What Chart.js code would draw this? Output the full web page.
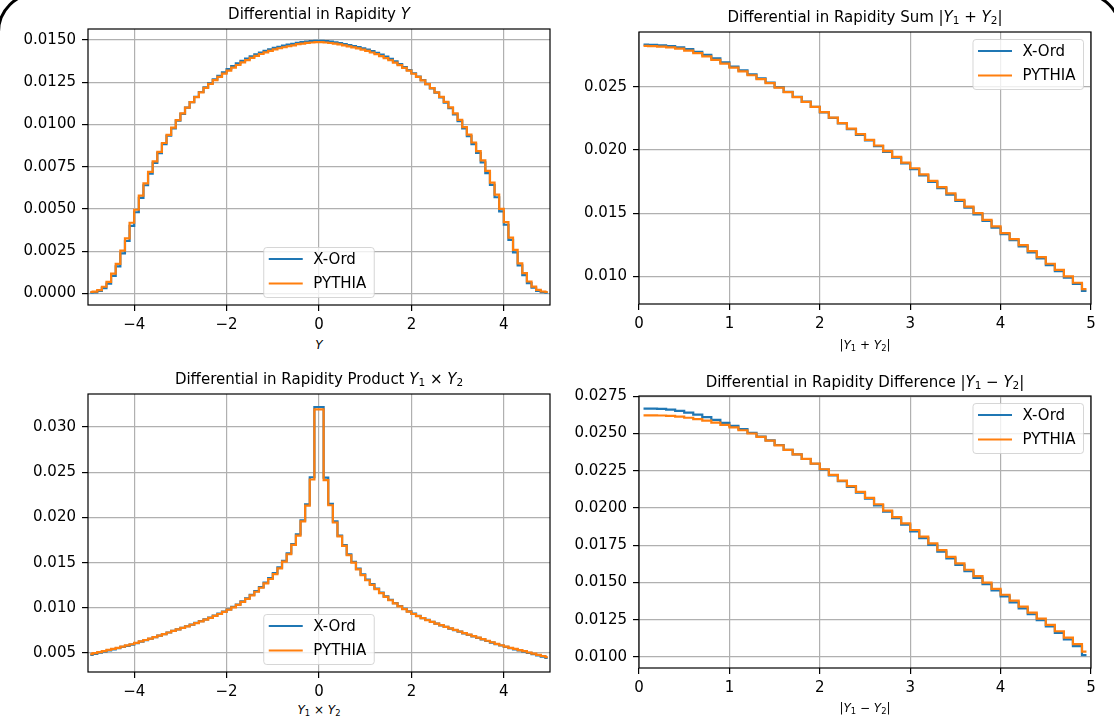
<!DOCTYPE html>
<html>
<head>
<meta charset="utf-8">
<script src="https://cdn.jsdelivr.net/npm/chart.js@4.4.0/dist/chart.umd.min.js"></script>
<style>
  body { margin:0; background:#fff; width:1114px; height:724px; overflow:hidden; position:relative; font-family:'DejaVu Sans', sans-serif; }
  canvas { position:absolute; }
  .txt { position:absolute; white-space:nowrap; transform:translateX(-50%); color:#000; line-height:1; }
  .txt sub { font-size:70%; vertical-align:-0.22em; line-height:0; }
  #corner { position:absolute; left:-3px; top:-8px; width:1125px; height:900px; border:3px solid #000; border-radius:40px; box-sizing:border-box; }
</style>
</head>
<body>
<div id="corner"></div>
<script>
// bin centres
const symBins = [
  -4.95,-4.85,-4.75,-4.65,-4.55,-4.45,-4.35,-4.25,-4.15,-4.05,
  -3.95,-3.85,-3.75,-3.65,-3.55,-3.45,-3.35,-3.25,-3.15,-3.05,
  -2.95,-2.85,-2.75,-2.65,-2.55,-2.45,-2.35,-2.25,-2.15,-2.05,
  -1.95,-1.85,-1.75,-1.65,-1.55,-1.45,-1.35,-1.25,-1.15,-1.05,
  -0.95,-0.85,-0.75,-0.65,-0.55,-0.45,-0.35,-0.25,-0.15,-0.05,
  0.05,0.15,0.25,0.35,0.45,0.55,0.65,0.75,0.85,0.95,
  1.05,1.15,1.25,1.35,1.45,1.55,1.65,1.75,1.85,1.95,
  2.05,2.15,2.25,2.35,2.45,2.55,2.65,2.75,2.85,2.95,
  3.05,3.15,3.25,3.35,3.45,3.55,3.65,3.75,3.85,3.95,
  4.05,4.15,4.25,4.35,4.45,4.55,4.65,4.75,4.85,4.95
];
const absBins = [
  0.05,0.15,0.25,0.35,0.45,0.55,0.65,0.75,0.85,0.95,
  1.05,1.15,1.25,1.35,1.45,1.55,1.65,1.75,1.85,1.95,
  2.05,2.15,2.25,2.35,2.45,2.55,2.65,2.75,2.85,2.95,
  3.05,3.15,3.25,3.35,3.45,3.55,3.65,3.75,3.85,3.95,
  4.05,4.15,4.25,4.35,4.45,4.55,4.65,4.75,4.85,4.95
];

// rapidity Y
const rapXord = [
  0.00004,0.00006,0.00014,0.00031,0.00058,0.00104,0.00160,0.00237,0.00310,0.00400,
  0.00480,0.00565,0.00640,0.00708,0.00772,0.00830,0.00884,0.00933,0.00977,0.01022,
  0.01063,0.01099,0.01132,0.01163,0.01192,0.01219,0.01244,0.01267,0.01288,0.01308,
  0.01327,0.01345,0.01361,0.01376,0.01390,0.01403,0.01415,0.01426,0.01436,0.01445,
  0.01453,0.01460,0.01466,0.01472,0.01477,0.01483,0.01487,0.01491,0.01494,0.01495,
  0.01495,0.01493,0.01490,0.01486,0.01482,0.01476,0.01470,0.01464,0.01458,0.01451,
  0.01443,0.01434,0.01424,0.01413,0.01401,0.01388,0.01373,0.01357,0.01340,0.01322,
  0.01303,0.01283,0.01262,0.01239,0.01214,0.01188,0.01160,0.01129,0.01096,0.01060,
  0.01020,0.00976,0.00931,0.00883,0.00831,0.00775,0.00712,0.00642,0.00569,0.00485,
  0.00406,0.00316,0.00243,0.00165,0.00108,0.00061,0.00033,0.00015,0.00007,0.00004
];
const rapPythia = [
  0.00008,0.00010,0.00019,0.00039,0.00068,0.00117,0.00175,0.00253,0.00326,0.00418,
  0.00495,0.00579,0.00651,0.00719,0.00781,0.00838,0.00890,0.00938,0.00981,0.01025,
  0.01065,0.01100,0.01132,0.01162,0.01190,0.01216,0.01240,0.01262,0.01282,0.01301,
  0.01319,0.01336,0.01352,0.01367,0.01381,0.01394,0.01406,0.01417,0.01427,0.01436,
  0.01444,0.01451,0.01457,0.01463,0.01468,0.01475,0.01479,0.01483,0.01485,0.01487,
  0.01487,0.01485,0.01482,0.01478,0.01474,0.01468,0.01462,0.01456,0.01450,0.01443,
  0.01435,0.01426,0.01416,0.01405,0.01393,0.01380,0.01366,0.01351,0.01335,0.01318,
  0.01300,0.01281,0.01261,0.01239,0.01215,0.01190,0.01163,0.01133,0.01101,0.01066,
  0.01027,0.00984,0.00940,0.00893,0.00842,0.00787,0.00725,0.00656,0.00584,0.00500,
  0.00422,0.00330,0.00257,0.00178,0.00120,0.00070,0.00040,0.00020,0.00011,0.00008
];

// rapidity sum |Y1+Y2|
const sumXord = [
  0.02832,0.02831,0.02827,0.02821,0.02811,0.02796,0.02776,0.02751,0.02723,0.02692,
  0.02659,0.02628,0.02597,0.02566,0.02533,0.02497,0.02459,0.02420,0.02381,0.02340,
  0.02297,0.02253,0.02209,0.02164,0.02119,0.02076,0.02030,0.01984,0.01938,0.01893,
  0.01848,0.01798,0.01748,0.01697,0.01647,0.01596,0.01543,0.01491,0.01438,0.01386,
  0.01334,0.01286,0.01238,0.01190,0.01142,0.01090,0.01042,0.00990,0.00940,0.00885
];
const sumPythia = [
  0.02822,0.02820,0.02816,0.02810,0.02800,0.02785,0.02765,0.02740,0.02712,0.02682,
  0.02650,0.02620,0.02590,0.02560,0.02528,0.02493,0.02456,0.02418,0.02380,0.02340,
  0.02298,0.02255,0.02212,0.02168,0.02124,0.02080,0.02035,0.01990,0.01945,0.01900,
  0.01855,0.01806,0.01756,0.01706,0.01656,0.01605,0.01552,0.01500,0.01447,0.01395,
  0.01343,0.01295,0.01247,0.01200,0.01152,0.01100,0.01052,0.01000,0.00950,0.00900
];

// rapidity product Y1*Y2
const prodXord = [
  0.00480,0.00491,0.00503,0.00516,0.00528,0.00541,0.00553,0.00567,0.00580,0.00594,
  0.00609,0.00625,0.00642,0.00658,0.00675,0.00692,0.00709,0.00727,0.00744,0.00761,
  0.00779,0.00796,0.00815,0.00833,0.00852,0.00872,0.00892,0.00913,0.00936,0.00959,
  0.00984,0.01010,0.01037,0.01071,0.01106,0.01145,0.01185,0.01230,0.01278,0.01328,
  0.01383,0.01447,0.01521,0.01604,0.01706,0.01812,0.01968,0.02145,0.02445,0.03222,
  0.03222,0.02440,0.02150,0.01956,0.01800,0.01695,0.01592,0.01509,0.01434,0.01370,
  0.01313,0.01262,0.01214,0.01169,0.01127,0.01089,0.01053,0.01020,0.00990,0.00961,
  0.00935,0.00910,0.00887,0.00866,0.00846,0.00826,0.00807,0.00789,0.00771,0.00753,
  0.00736,0.00718,0.00701,0.00684,0.00667,0.00650,0.00633,0.00616,0.00599,0.00583,
  0.00567,0.00554,0.00541,0.00528,0.00516,0.00501,0.00488,0.00475,0.00461,0.00446
];
const prodPythia = [
  0.00487,0.00498,0.00510,0.00522,0.00534,0.00546,0.00558,0.00571,0.00584,0.00597,
  0.00612,0.00628,0.00644,0.00660,0.00676,0.00693,0.00710,0.00727,0.00744,0.00761,
  0.00778,0.00795,0.00813,0.00831,0.00850,0.00869,0.00889,0.00910,0.00932,0.00955,
  0.00980,0.01005,0.01032,0.01065,0.01100,0.01138,0.01178,0.01222,0.01270,0.01319,
  0.01374,0.01437,0.01511,0.01593,0.01696,0.01800,0.01956,0.02130,0.02420,0.03196,
  0.03196,0.02412,0.02135,0.01944,0.01790,0.01685,0.01582,0.01500,0.01426,0.01362,
  0.01305,0.01255,0.01207,0.01163,0.01122,0.01084,0.01049,0.01016,0.00986,0.00958,
  0.00932,0.00908,0.00886,0.00865,0.00845,0.00826,0.00808,0.00790,0.00772,0.00755,
  0.00738,0.00721,0.00704,0.00687,0.00670,0.00653,0.00636,0.00619,0.00602,0.00586,
  0.00571,0.00558,0.00545,0.00533,0.00521,0.00506,0.00493,0.00480,0.00467,0.00454
];

// rapidity difference |Y1-Y2|
const diffXord = [
  0.02667,0.02667,0.02666,0.02661,0.02652,0.02641,0.02627,0.02610,0.02592,0.02572,
  0.02551,0.02529,0.02505,0.02480,0.02454,0.02423,0.02391,0.02360,0.02329,0.02297,
  0.02258,0.02219,0.02180,0.02141,0.02102,0.02062,0.02018,0.01975,0.01931,0.01888,
  0.01843,0.01798,0.01752,0.01707,0.01662,0.01618,0.01575,0.01531,0.01488,0.01446,
  0.01406,0.01366,0.01326,0.01286,0.01246,0.01204,0.01160,0.01117,0.01072,0.01012
];
const diffPythia = [
  0.02622,0.02622,0.02621,0.02618,0.02613,0.02606,0.02597,0.02586,0.02573,0.02558,
  0.02541,0.02522,0.02500,0.02477,0.02452,0.02420,0.02390,0.02360,0.02330,0.02298,
  0.02260,0.02222,0.02184,0.02146,0.02108,0.02068,0.02025,0.01982,0.01939,0.01896,
  0.01852,0.01807,0.01762,0.01717,0.01672,0.01628,0.01585,0.01542,0.01499,0.01457,
  0.01417,0.01377,0.01337,0.01297,0.01257,0.01215,0.01172,0.01129,0.01085,0.01035
];

// tick values
const symXTicks = [-4, -2, 0, 2, 4];
const absXTicks = [0, 1, 2, 3, 4, 5];
const rapYTicks = [0, 0.0025, 0.005, 0.0075, 0.01, 0.0125, 0.015];
const sumYTicks = [0.010, 0.015, 0.020, 0.025];
const prodYTicks = [0.005, 0.010, 0.015, 0.020, 0.025, 0.030];
const diffYTicks = [0.0100, 0.0125, 0.0150, 0.0175, 0.0200, 0.0225, 0.0250, 0.0275];

Chart.defaults.font.family = "'DejaVu Sans'";
Chart.defaults.color = '#000';

const frame = {
  id: 'frame',
  afterDatasetsDraw(chart) {
    const { ctx, chartArea: a } = chart;
    ctx.save();
    ctx.strokeStyle = '#000';
    ctx.lineWidth = 1.2;
    ctx.strokeRect(a.left, a.top, a.right - a.left, a.bottom - a.top);
    ctx.restore();
  }
};

// matplotlib-like legend inside the axes
const insideLegend = {
  id: 'insideLegend',
  afterDraw(chart, args, opts) {
    const { ctx, chartArea: a } = chart;
    const sets = chart.data.datasets;
    ctx.save();
    ctx.font = "15px 'DejaVu Sans'";
    const tw = Math.max(...sets.map(d => ctx.measureText(d.label).width));
    const w = 49.5 + tw + 8, h = 50, r = 3;
    let x, y;
    if (opts.loc === 'upper right') { x = a.right - 7.5 - w; y = a.top + 7.5; }
    else { x = (a.left + a.right) / 2 - w / 2; y = a.bottom - 7.5 - h; }
    ctx.beginPath();
    ctx.moveTo(x + r, y);
    ctx.arcTo(x + w, y, x + w, y + h, r);
    ctx.arcTo(x + w, y + h, x, y + h, r);
    ctx.arcTo(x, y + h, x, y, r);
    ctx.arcTo(x, y, x + w, y, r);
    ctx.closePath();
    ctx.fillStyle = 'rgba(255,255,255,0.8)';
    ctx.fill();
    ctx.strokeStyle = 'rgba(204,204,204,0.8)';
    ctx.lineWidth = 1;
    ctx.stroke();
    sets.forEach((d, i) => {
      const ry = y + 11.5 + i * 24.5;
      ctx.beginPath();
      ctx.moveTo(x + 5, ry);
      ctx.lineTo(x + 39, ry);
      ctx.strokeStyle = d.borderColor;
      ctx.lineWidth = 2.2;
      ctx.stroke();
      ctx.fillStyle = '#000';
      ctx.textBaseline = 'middle';
      ctx.fillText(d.label, x + 49.5, ry + 1);
    });
    ctx.restore();
  }
};

const fmtX = v => v < 0 ? '\u2212' + (-v) : String(v);

function addText(html, cx, top, size) {
  const el = document.createElement('div');
  el.className = 'txt';
  el.style.left = cx + 'px';
  el.style.top = top + 'px';
  el.style.fontSize = size + 'px';
  el.innerHTML = html;
  document.body.appendChild(el);
}

function panel(p) {
  const [l, r, t, b] = p.box;
  const yw = 80, xh = 30, padT = 10, padR = 12;
  const cv = document.createElement('canvas');
  const L = l - yw, T = t - padT;
  cv.width = r + padR - L;
  cv.height = b + xh - T;
  cv.style.left = L + 'px';
  cv.style.top = T + 'px';
  document.body.appendChild(cv);

  const gridCfg = { color: '#b0b0b0', lineWidth: 1.2, tickColor: '#000', tickLength: 6, tickWidth: 1.2 };
  new Chart(cv, {
    type: 'line',
    data: {
      datasets: [
        // PYTHIA is drawn on top, as in the original figure
        { label: 'X-Ord', order: 2, data: p.bins.map((x, i) => ({ x, y: p.xord[i] })), borderColor: '#1f77b4' },
        { label: 'PYTHIA', order: 1, data: p.bins.map((x, i) => ({ x, y: p.pythia[i] })), borderColor: '#ff7f0e' }
      ]
    },
    options: {
      responsive: false,
      animation: false,
      devicePixelRatio: 1,
      layout: { padding: { top: padT, right: padR, left: 0, bottom: 0 } },
      elements: { line: { stepped: 'middle', borderWidth: 2.2, fill: false, tension: 0 }, point: { radius: 0 } },
      plugins: { legend: { display: false }, tooltip: { enabled: false }, insideLegend: { loc: p.loc } },
      scales: {
        x: {
          type: 'linear', min: p.xr[0], max: p.xr[1],
          afterBuildTicks: s => { s.ticks = p.xt.map(v => ({ value: v })); },
          afterFit: s => { s.height = xh; s.paddingLeft = 0; s.paddingRight = 0; },
          grid: gridCfg, border: { display: false },
          ticks: { autoSkip: false, maxRotation: 0, padding: 5, font: { size: 15 }, callback: v => fmtX(v) }
        },
        y: {
          type: 'linear', min: p.yr[0], max: p.yr[1],
          afterBuildTicks: s => { s.ticks = p.yt.map(v => ({ value: v })); },
          afterFit: s => { s.width = yw; s.paddingTop = 0; s.paddingBottom = 0; },
          grid: gridCfg, border: { display: false },
          ticks: { autoSkip: false, padding: 6, font: { size: 15 }, callback: v => v.toFixed(p.dec) }
        }
      }
    },
    plugins: [frame, insideLegend]
  });

  const cx = (l + r) / 2;
  addText(p.title, cx, p.titleBase - 12.7, 15);
  addText(p.xlabel, cx, p.labelBase - 10.2, 12);
}

panel({
  box: [88, 550, 29, 305], bins: symBins, xord: rapXord, pythia: rapPythia,
  xr: [-5, 5], yr: [-0.00069, 0.01565], xt: symXTicks, yt: rapYTicks, dec: 4, loc: 'lower center',
  title: 'Differential in Rapidity <i>Y</i>', titleBase: 19.5,
  xlabel: '<i>Y</i>', labelBase: 349
});
panel({
  box: [639, 1091, 32, 304], bins: absBins, xord: sumXord, pythia: sumPythia,
  xr: [0, 5], yr: [0.00782, 0.02932], xt: absXTicks, yt: sumYTicks, dec: 3, loc: 'upper right',
  title: 'Differential in Rapidity Sum |<i>Y</i><sub>1</sub> + <i>Y</i><sub>2</sub>|', titleBase: 23,
  xlabel: '|<i>Y</i><sub>1</sub> + <i>Y</i><sub>2</sub>|', labelBase: 349
});
panel({
  box: [88, 550, 394, 672], bins: symBins, xord: prodXord, pythia: prodPythia,
  xr: [-5, 5], yr: [0.0029, 0.03366], xt: symXTicks, yt: prodYTicks, dec: 3, loc: 'lower center',
  title: 'Differential in Rapidity Product <i>Y</i><sub>1</sub> \u00d7 <i>Y</i><sub>2</sub>', titleBase: 385,
  xlabel: '<i>Y</i><sub>1</sub> \u00d7 <i>Y</i><sub>2</sub>', labelBase: 714
});
panel({
  box: [639, 1091, 396, 668], bins: absBins, xord: diffXord, pythia: diffPythia,
  xr: [0, 5], yr: [0.00925, 0.02752], xt: absXTicks, yt: diffYTicks, dec: 4, loc: 'upper right',
  title: 'Differential in Rapidity Difference |<i>Y</i><sub>1</sub> \u2212 <i>Y</i><sub>2</sub>|', titleBase: 387.5,
  xlabel: '|<i>Y</i><sub>1</sub> \u2212 <i>Y</i><sub>2</sub>|', labelBase: 712
});
</script>
</body>
</html>
